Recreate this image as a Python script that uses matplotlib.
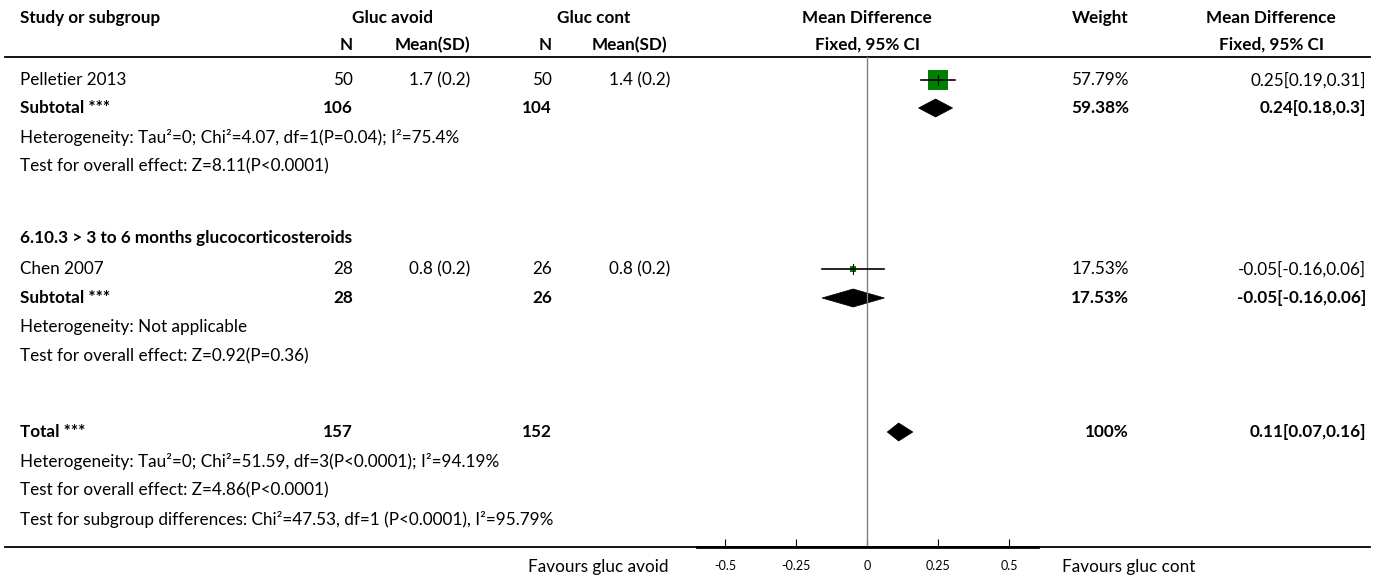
import matplotlib
matplotlib.use("Agg")
import matplotlib.pyplot as plt
from matplotlib.patches import Polygon, Rectangle

plt.rcParams['font.family'] = ['Lato', 'DejaVu Sans']

# study level data
studies = ["Pelletier 2013", "Chen 2007"]
n_avoid = [50, 28]
mean_avoid = [1.7, 0.8]
sd_avoid = [0.2, 0.2]
n_cont = [50, 26]
mean_cont = [1.4, 0.8]
sd_cont = [0.2, 0.2]
weights = [57.79, 17.53]
md = [0.25, -0.05]
md_lo = [0.19, -0.16]
md_hi = [0.31, 0.06]

# subgroup data
group_titles = [None, "6.10.3 > 3 to 6 months glucocorticosteroids"]
sub_n_avoid = [106, 28]
sub_n_cont = [104, 26]
sub_weight = [59.38, 17.53]
sub_md = [0.24, -0.05]
sub_lo = [0.18, -0.16]
sub_hi = [0.3, 0.06]
sub_het = ["Heterogeneity: Tau²=0; Chi²=4.07, df=1(P=0.04); I²=75.4%",
           "Heterogeneity: Not applicable"]
sub_test = ["Test for overall effect: Z=8.11(P<0.0001)",
            "Test for overall effect: Z=0.92(P=0.36)"]

# totals
total_n_avoid = 157
total_n_cont = 152
total_weight = 100
total_md = 0.11
total_lo = 0.07
total_hi = 0.16
total_notes = ["Heterogeneity: Tau²=0; Chi²=51.59, df=3(P<0.0001); I²=94.19%",
               "Test for overall effect: Z=4.86(P<0.0001)",
               "Test for subgroup differences: Chi²=47.53, df=1 (P<0.0001), I²=95.79%"]

x_ticks = [-0.5, -0.25, 0, 0.25, 0.5]
x_tick_labels = ["-0.5", "-0.25", "0", "0.25", "0.5"]
favours_left = "Favours gluc avoid"
favours_right = "Favours gluc cont"

W, H = 1375, 579
FS = 12.3

# row layout (pixel rows)
study_rows = [80, 269]
sub_rows = [108, 298]
het_rows = [137, 327]
test_rows = [166, 356]
group_rows = [None, 238]
total_row = 432
note_rows = [461, 490, 519]
top_rule = 57
bottom_rule = 547


def fmt_ci(m, lo, hi):
    return f"{m:g}[{lo:g},{hi:g}]"


def draw_diamond(ax, y, m, lo, hi, half_h=9):
    pts = [(lo, y), (m, y - half_h), (hi, y), (m, y + half_h)]
    ax.add_patch(Polygon(pts, closed=True, facecolor="black", edgecolor="black", lw=0.5))


fig = plt.figure(figsize=(W / 100, H / 100), dpi=100)
tab = fig.add_axes([0, 0, 1, 1])
tab.set_xlim(0, W)
tab.set_ylim(H, 0)
tab.axis("off")

# headers
bold = dict(fontsize=FS, fontweight="bold", va="center")
tab.text(20, 18, "Study or subgroup", ha="left", **bold)
tab.text(393, 18, "Gluc avoid", ha="center", **bold)
tab.text(594, 18, "Gluc cont", ha="center", **bold)
tab.text(867, 18, "Mean Difference", ha="center", **bold)
tab.text(1100, 18, "Weight", ha="center", **bold)
tab.text(1271, 18, "Mean Difference", ha="center", **bold)
tab.text(346, 45, "N", ha="center", **bold)
tab.text(470, 45, "Mean(SD)", ha="right", **bold)
tab.text(545, 45, "N", ha="center", **bold)
tab.text(667, 45, "Mean(SD)", ha="right", **bold)
tab.text(868, 45, "Fixed, 95% CI", ha="center", **bold)
tab.text(1272, 45, "Fixed, 95% CI", ha="center", **bold)

tab.plot([5, 1370], [top_rule, top_rule], color="black", lw=1.3)
tab.plot([5, 1370], [bottom_rule, bottom_rule], color="black", lw=1.3)

reg = dict(fontsize=FS, va="center")
for i in range(len(studies)):
    if group_titles[i]:
        tab.text(20, group_rows[i], group_titles[i], ha="left", **bold)
    y = study_rows[i]
    tab.text(20, y, studies[i], ha="left", **reg)
    tab.text(353, y, str(n_avoid[i]), ha="right", **reg)
    tab.text(470, y, f"{mean_avoid[i]:g} ({sd_avoid[i]:g})", ha="right", **reg)
    tab.text(552, y, str(n_cont[i]), ha="right", **reg)
    tab.text(670, y, f"{mean_cont[i]:g} ({sd_cont[i]:g})", ha="right", **reg)
    tab.text(1129, y, f"{weights[i]:g}%", ha="right", **reg)
    tab.text(1366, y, fmt_ci(md[i], md_lo[i], md_hi[i]), ha="right", **reg)

    y = sub_rows[i]
    tab.text(20, y, "Subtotal ***", ha="left", **bold)
    tab.text(353, y, str(sub_n_avoid[i]), ha="right", **bold)
    tab.text(552, y, str(sub_n_cont[i]), ha="right", **bold)
    tab.text(1129, y, f"{sub_weight[i]:g}%", ha="right", **bold)
    tab.text(1366, y, fmt_ci(sub_md[i], sub_lo[i], sub_hi[i]), ha="right", **bold)
    tab.text(20, het_rows[i], sub_het[i], ha="left", **reg)
    tab.text(20, test_rows[i], sub_test[i], ha="left", **reg)

tab.text(20, total_row, "Total ***", ha="left", **bold)
tab.text(353, total_row, str(total_n_avoid), ha="right", **bold)
tab.text(552, total_row, str(total_n_cont), ha="right", **bold)
tab.text(1129, total_row, f"{total_weight:g}%", ha="right", **bold)
tab.text(1366, total_row, fmt_ci(total_md, total_lo, total_hi), ha="right", **bold)
for y, note in zip(note_rows, total_notes):
    tab.text(20, y, note, ha="left", **reg)

tab.text(669, 567, favours_left, ha="right", **reg)
tab.text(1062, 567, favours_right, ha="left", **reg)

# forest panel
ax = fig.add_axes([697 / W, 0, 340.8 / W, 1])
ax.set_xlim(-0.6, 0.6)
ax.set_ylim(H, 0)
ax.patch.set_alpha(0)
for s in ["top", "left", "right"]:
    ax.spines[s].set_visible(False)
ax.spines["bottom"].set_position(("data", bottom_rule))
ax.spines["bottom"].set_linewidth(2)
ax.set_yticks([])
ax.set_xticks(x_ticks)
ax.set_xticklabels(x_tick_labels, fontsize=9)
ax.tick_params(axis="x", direction="in", length=6, width=0.8, pad=9)

ax.plot([0, 0], [top_rule, bottom_rule], color="#808080", lw=1)

px_per_unit = 340.8 / 1.2
for i in range(len(studies)):
    y = study_rows[i]
    side = 0.345 * weights[i]
    ax.add_patch(Rectangle((md[i] - side / 2 / px_per_unit, y - side / 2),
                           side / px_per_unit, side, facecolor="#008000", edgecolor="none", zorder=2))
    ax.plot([md_lo[i], md_hi[i]], [y, y], color="black", lw=1.2, zorder=3)
    ax.plot([md[i], md[i]], [y - 5, y + 5], color="black", lw=0.8, zorder=3)
    draw_diamond(ax, sub_rows[i], sub_md[i], sub_lo[i], sub_hi[i])

draw_diamond(ax, total_row, total_md, total_lo, total_hi)

fig.savefig("out.png", dpi=100)
